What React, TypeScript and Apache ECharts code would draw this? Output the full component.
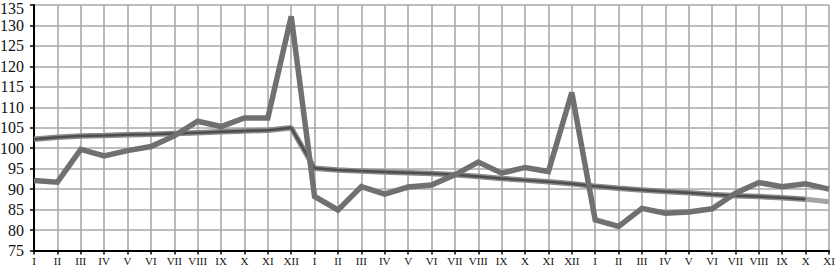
import React, { useEffect, useRef } from "react";
import * as echarts from "echarts";

const months = ["I", "II", "III", "IV", "V", "VI", "VII", "VIII", "IX", "X", "XI", "XII"];
const categories: string[] = [...months, ...months, ...months.slice(0, 11)];

const actual: number[] = [
  92.1, 91.7, 99.7, 98.1, 99.4, 100.4, 103.0, 106.6, 105.3, 107.4, 107.4, 132.2,
  88.2, 84.9, 90.6, 88.8, 90.5, 91.0, 93.5, 96.6, 93.9, 95.3, 94.3, 113.6,
  82.5, 80.9, 85.3, 84.1, 84.4, 85.2, 89.0, 91.6, 90.6, 91.3, 90.0,
];

const trend: (number | null)[] = [
  102.2, 102.7, 103.0, 103.1, 103.3, 103.4, 103.6, 103.8, 104.0, 104.2, 104.4, 105.0,
  95.1, 94.7, 94.4, 94.2, 94.0, 93.8, 93.5, 93.1, 92.6, 92.2, 91.8, 91.3,
  90.7, 90.2, 89.8, 89.4, 89.1, 88.7, 88.4, 88.2, 87.9, 87.5, null,
];

const trendTail: (number | null)[] = [
  ...new Array(33).fill(null), 87.5, 86.9,
];

export default function App() {
  const ref = useRef<HTMLDivElement>(null);
  useEffect(() => {
    if (!ref.current) return;
    const chart = echarts.init(ref.current, null, { renderer: "svg" });
    const font = "serif";
    chart.setOption({
      animation: false,
      backgroundColor: "#ffffff",
      textStyle: { fontFamily: font },
      grid: {
        left: 34,
        right: 7,
        top: 5,
        bottom: 16.5,
        containLabel: false,
        outerBoundsMode: "none",
      },
      xAxis: {
        type: "category",
        data: categories,
        boundaryGap: false,
        axisLine: { show: true, lineStyle: { color: "#000", width: 2 } },
        axisTick: { show: true, length: 4, lineStyle: { color: "#000", width: 1.5 } },
        axisLabel: {
          interval: 0,
          fontFamily: font,
          fontSize: 11,
          color: "#111",
          margin: 5,
        },
        splitLine: { show: true, interval: 0, lineStyle: { color: "#a9a9a9", width: 1.6 } },
      },
      yAxis: {
        type: "value",
        min: 75,
        max: 135,
        interval: 5,
        axisLine: { show: true, lineStyle: { color: "#000", width: 2 } },
        axisTick: { show: true, length: 4, lineStyle: { color: "#000", width: 1.5 } },
        axisLabel: {
          fontFamily: font,
          fontSize: 16,
          color: "#111",
          margin: 10,
          formatter: (v: number) => (v === 135 ? "{t|" + v + "}" : String(v)),
          rich: {
            t: { fontFamily: font, fontSize: 16, color: "#111", padding: [6, 0, 0, 0] },
          },
        },
        splitLine: { show: true, lineStyle: { color: "#a9a9a9", width: 1.6 } },
      },
      series: [
        {
          type: "line",
          data: trendTail,
          symbol: "none",
          lineStyle: { color: "#a3a3a3", width: 5 },
          z: 2,
        },
        {
          type: "line",
          data: trend,
          symbol: "none",
          lineStyle: { color: "#8a8a8a", width: 5.5 },
          z: 3,
        },
        {
          type: "line",
          data: trend,
          symbol: "none",
          lineStyle: { color: "#4e4e4e", width: 2.5 },
          z: 4,
        },
        {
          type: "line",
          data: actual,
          symbol: "none",
          lineStyle: { color: "#707070", width: 5.5, join: "miter" },
          z: 5,
        },
      ],
    });
    return () => chart.dispose();
  }, []);
  return (
    <div
      ref={ref}
      style={{ position: "absolute", left: 0, top: 0, width: 836, height: 267 }}
    />
  );
}
